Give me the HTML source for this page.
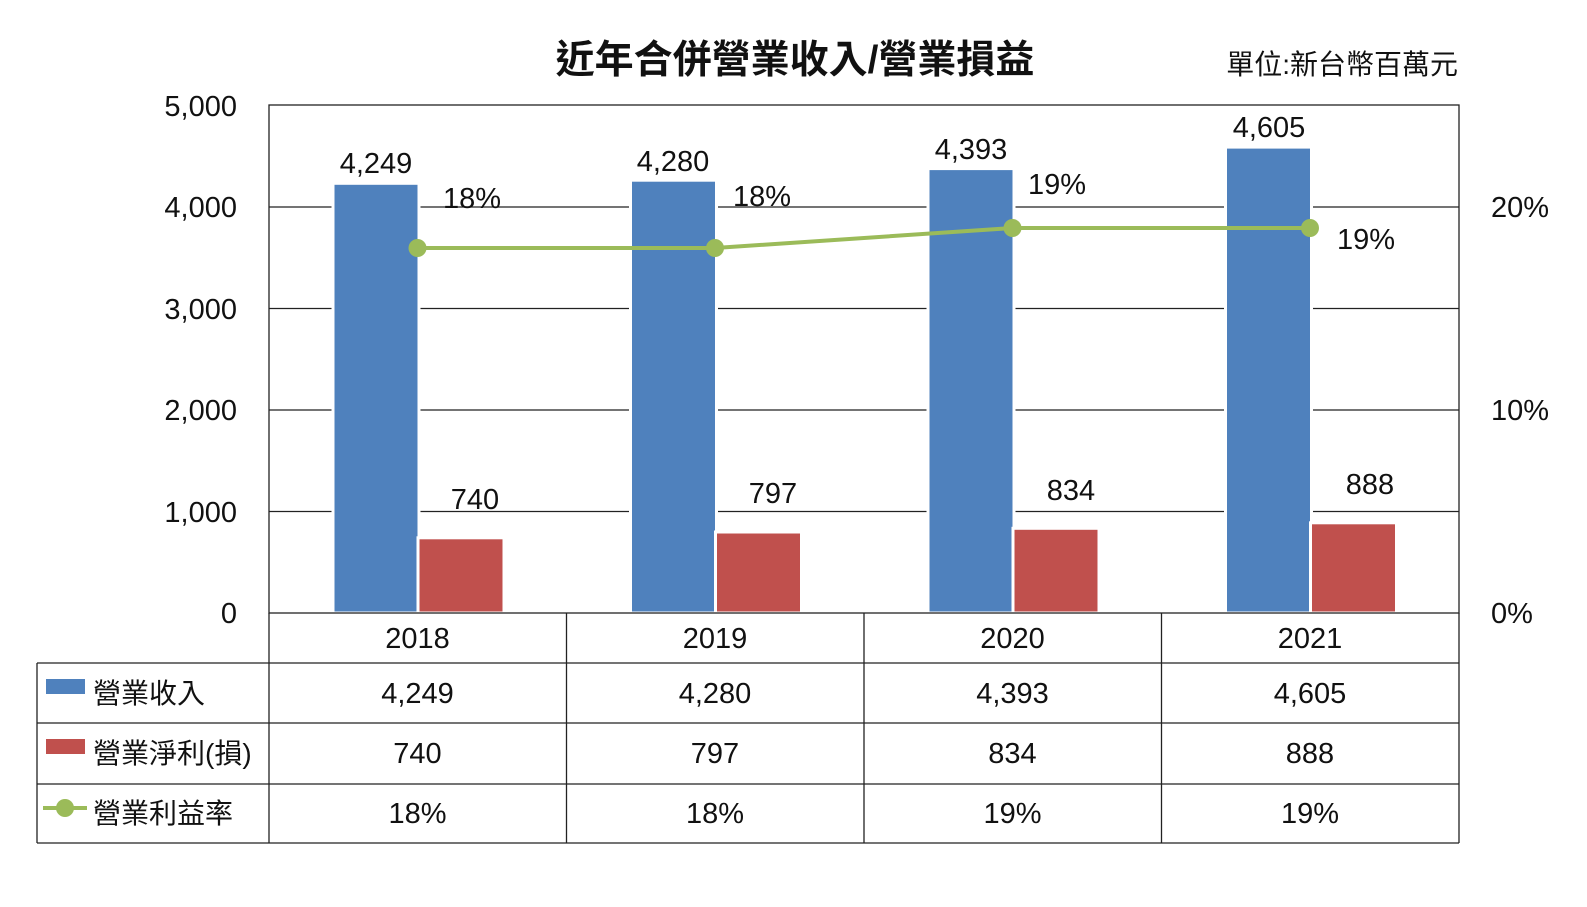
<!DOCTYPE html>
<html><head><meta charset="utf-8"><style>
html,body{margin:0;padding:0;background:#fff;}
svg{display:block;}
text{font-family:"Liberation Sans","Noto Sans CJK TC",sans-serif;fill:#111;}
</style></head><body>
<svg width="1587" height="907" viewBox="0 0 1587 907" xmlns="http://www.w3.org/2000/svg">
<rect width="1587" height="907" fill="#fff"/>
<text x="795" y="73" font-size="39" font-weight="bold" text-anchor="middle" font-family="'Noto Sans CJK TC',sans-serif">近年合併營業收入/營業損益</text>
<text x="1458" y="74" font-size="28" text-anchor="end">單位:新台幣百萬元</text>
<g stroke="#222" stroke-width="1.3">
<line x1="269" y1="207" x2="1459" y2="207"/>
<line x1="269" y1="308.5" x2="1459" y2="308.5"/>
<line x1="269" y1="410" x2="1459" y2="410"/>
<line x1="269" y1="511.5" x2="1459" y2="511.5"/>
</g>
<g stroke="#fff" stroke-width="3">
<rect x="333" y="183.3" width="86" height="429.7" fill="#4f81bd"/>
<rect x="418" y="537.8" width="86" height="75.2" fill="#c0504d"/>
<rect x="630.5" y="180.2" width="86" height="432.8" fill="#4f81bd"/>
<rect x="715.5" y="532" width="86" height="81" fill="#c0504d"/>
<rect x="928" y="168.6" width="86" height="444.4" fill="#4f81bd"/>
<rect x="1013" y="528.3" width="86" height="84.7" fill="#c0504d"/>
<rect x="1225.5" y="147.1" width="86" height="465.9" fill="#4f81bd"/>
<rect x="1310.5" y="522.8" width="86" height="90.2" fill="#c0504d"/>
</g>
<rect x="269" y="105" width="1190" height="508" fill="none" stroke="#222" stroke-width="1.3"/>
<polyline points="417.5,248 715,248 1012.5,228 1310,228" fill="none" stroke="#9bbb59" stroke-width="4"/>
<g fill="#9bbb59">
<circle cx="417.5" cy="248" r="9"/><circle cx="715" cy="248" r="9"/><circle cx="1012.5" cy="228" r="9"/><circle cx="1310" cy="228" r="9"/>
</g>
<g font-size="29" text-anchor="middle">
<text x="376" y="173">4,249</text>
<text x="475" y="509">740</text>
<text x="673" y="171">4,280</text>
<text x="773" y="503">797</text>
<text x="971" y="159">4,393</text>
<text x="1071" y="500">834</text>
<text x="1269" y="137">4,605</text>
<text x="1370" y="494">888</text>
<text x="472" y="208">18%</text>
<text x="762" y="206">18%</text>
<text x="1057" y="194">19%</text>
<text x="1366" y="249">19%</text>
</g>
<g font-size="29" text-anchor="end">
<text x="237" y="116">5,000</text>
<text x="237" y="217">4,000</text>
<text x="237" y="319">3,000</text>
<text x="237" y="420">2,000</text>
<text x="237" y="522">1,000</text>
<text x="237" y="623">0</text>
</g>
<g font-size="29">
<text x="1491" y="217">20%</text>
<text x="1491" y="420">10%</text>
<text x="1491" y="623">0%</text>
</g>
<g stroke="#222" stroke-width="1.3" fill="none">
<line x1="269" y1="613" x2="269" y2="843"/>
<line x1="566.5" y1="613" x2="566.5" y2="843"/>
<line x1="864" y1="613" x2="864" y2="843"/>
<line x1="1161.5" y1="613" x2="1161.5" y2="843"/>
<line x1="1459" y1="613" x2="1459" y2="843"/>
<line x1="37" y1="663" x2="1459" y2="663"/>
<line x1="37" y1="723" x2="1459" y2="723"/>
<line x1="37" y1="784" x2="1459" y2="784"/>
<line x1="37" y1="843" x2="1459" y2="843"/>
<line x1="37" y1="663" x2="37" y2="843"/>
</g>
<g font-size="29" text-anchor="middle">
<text x="417.5" y="648">2018</text><text x="715" y="648">2019</text><text x="1012.5" y="648">2020</text><text x="1310" y="648">2021</text>
<text x="417.5" y="703">4,249</text><text x="715" y="703">4,280</text><text x="1012.5" y="703">4,393</text><text x="1310" y="703">4,605</text>
<text x="417.5" y="763">740</text><text x="715" y="763">797</text><text x="1012.5" y="763">834</text><text x="1310" y="763">888</text>
<text x="417.5" y="823">18%</text><text x="715" y="823">18%</text><text x="1012.5" y="823">19%</text><text x="1310" y="823">19%</text>
</g>
<rect x="46" y="679" width="39" height="15" fill="#4f81bd"/>
<rect x="46" y="739" width="39" height="15" fill="#c0504d"/>
<line x1="43" y1="808" x2="87" y2="808" stroke="#9bbb59" stroke-width="4"/>
<circle cx="65" cy="808" r="9" fill="#9bbb59"/>
<g font-size="28">
<text x="93" y="703">營業收入</text>
<text x="93" y="763">營業淨利(損)</text>
<text x="93" y="823">營業利益率</text>
</g>
</svg>
</body></html>
